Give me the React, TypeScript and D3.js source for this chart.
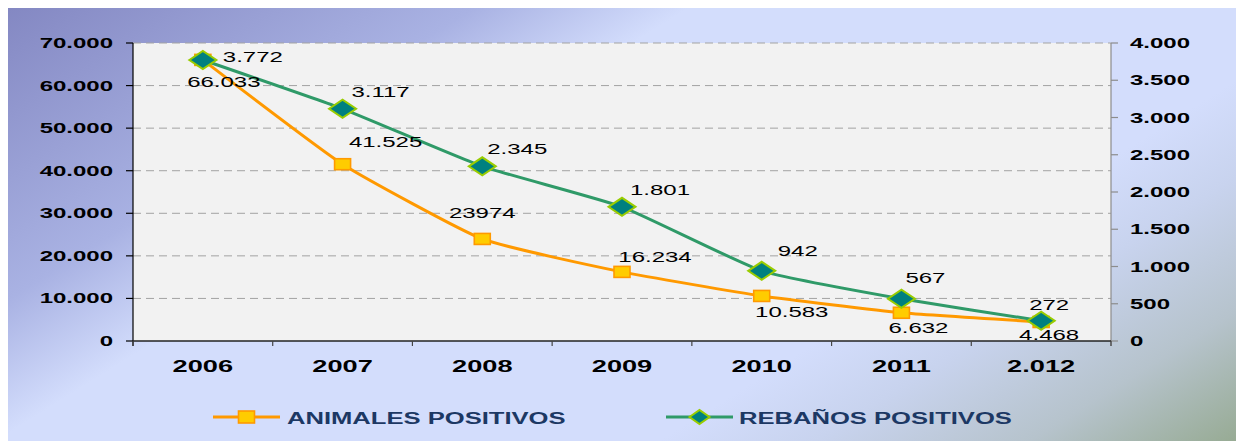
import React from "react";
import * as d3 from "d3";

const categories = ["2006", "2007", "2008", "2009", "2010", "2011", "2.012"];
const animales = [66033, 41525, 23974, 16234, 10583, 6632, 4468];
const animalesLabels = ["66.033", "41.525", "23974", "16.234", "10.583", "6.632", "4.468"];
const rebanos = [3772, 3117, 2345, 1801, 942, 567, 272];
const rebanosLabels = ["3.772", "3.117", "2.345", "1.801", "942", "567", "272"];
const leftTicks = [0, 10000, 20000, 30000, 40000, 50000, 60000, 70000];
const rightTicks = [0, 500, 1000, 1500, 2000, 2500, 3000, 3500, 4000];
const seriesNames = ["ANIMALES POSITIVOS", "REBAÑOS POSITIVOS"];

const W = 1244;
const H = 441;
const L = 133, R = 1111, T = 43, B = 341;
const SX = 1.6;
const FONT = "'Liberation Sans', Arial, sans-serif";

const loc = d3.formatLocale({ decimal: ",", thousands: ".", grouping: [3], currency: ["", ""] });
const fmt = loc.format(",");

// label offsets (center x, baseline) relative to each point
const animalesOff = [[21, 27], [43, -17], [0, -21], [33, -10], [30, 21], [17, 20], [8, 18]];
const rebanosOff = [[50, 2], [38, -12], [35, -12], [38, -12], [36, -15], [24, -16], [8, -11]];

function T_(props: { x: number; y: number; anchor?: string; size: number; weight?: string; fill?: string; children: any }) {
  const { x, y, anchor = "middle", size, weight = "normal", fill = "#000", children } = props;
  return (
    <text
      transform={`translate(${x},${y}) scale(${SX},1)`}
      textAnchor={anchor as any}
      fontFamily={FONT}
      fontSize={size}
      fontWeight={weight}
      fill={fill}
    >
      {children}
    </text>
  );
}

function Diamond({ cx, cy, rx, ry }: { cx: number; cy: number; rx: number; ry: number }) {
  return (
    <path
      d={`M${cx - rx},${cy}L${cx},${cy - ry}L${cx + rx},${cy}L${cx},${cy + ry}Z`}
      fill="#008080"
      stroke="#99cc00"
      strokeWidth={2}
    />
  );
}

function Square({ cx, cy, w, h }: { cx: number; cy: number; w: number; h: number }) {
  return <rect x={cx - w / 2} y={cy - h / 2} width={w} height={h} fill="#ffcc00" stroke="#ff9900" strokeWidth={1.6} />;
}

export default function App() {
  const x = d3.scaleBand<string>().domain(categories).range([L, R]).padding(0);
  const yL = d3.scaleLinear().domain([0, 70000]).range([B, T]);
  const yR = d3.scaleLinear().domain([0, 4000]).range([B, T]);
  const cx = (c: string) => (x(c) as number) + x.bandwidth() / 2;

  const line = d3.line<[number, number]>().x((d) => d[0]).y((d) => d[1]).curve(d3.curveCardinal.tension(0.55));
  const aPts: [number, number][] = animales.map((v, i) => [cx(categories[i]), yL(v)]);
  const rPts: [number, number][] = rebanos.map((v, i) => [cx(categories[i]), yR(v)]);

  const boundaries = categories.map((c) => x(c) as number).concat([R]);

  const legY = 417;

  return (
    <svg width={W - 8} height={H - 8} style={{ display: "block" }}>
      <defs>
        <linearGradient id="bg" gradientUnits="userSpaceOnUse" x1={0} y1={0} x2={547.5} y2={876}>
          <stop offset="0" stopColor="#8286c1" />
          <stop offset="0.25" stopColor="#a9b2e3" />
          <stop offset="0.36" stopColor="#d3ddfc" />
          <stop offset="0.7" stopColor="#d3ddfc" />
          <stop offset="0.78" stopColor="#c8d3ee" />
          <stop offset="0.89" stopColor="#b6c3cc" />
          <stop offset="1" stopColor="#96aa92" />
        </linearGradient>
      </defs>
      <g transform="translate(-8,-8)">
        <rect x={8} y={8} width={W - 8} height={H - 8} fill="url(#bg)" />
        <rect x={L} y={T} width={R - L} height={B - T} fill="#f2f2f2" />

        {leftTicks.filter((t) => t > 0).map((t) => (
          <line key={"g" + t} x1={L} x2={R} y1={yL(t)} y2={yL(t)} stroke="#a3a3a3" strokeWidth={1} strokeDasharray="8 5" />
        ))}

        {/* left axis */}
        <line x1={L} x2={L} y1={T} y2={B + 5} stroke="#000" strokeWidth={1.2} />
        {leftTicks.map((t) => (
          <g key={"lt" + t}>
            <line x1={L - 7} x2={L} y1={yL(t)} y2={yL(t)} stroke="#000" strokeWidth={1.2} />
            <T_ x={113} y={yL(t) + 5} anchor="end" size={15} weight="bold">{fmt(t)}</T_>
          </g>
        ))}

        {/* right axis */}
        <line x1={R} x2={R} y1={T} y2={B + 5} stroke="#8c8c8c" strokeWidth={1.2} />
        {rightTicks.map((t) => (
          <g key={"rt" + t}>
            <line x1={R} x2={R + 7} y1={yR(t)} y2={yR(t)} stroke="#8c8c8c" strokeWidth={1.2} />
            <T_ x={1130} y={yR(t) + 5} anchor="start" size={15} weight="bold">{fmt(t)}</T_>
          </g>
        ))}

        {/* bottom axis */}
        <line x1={L} x2={R} y1={B} y2={B} stroke="#222" strokeWidth={1.3} />
        {boundaries.map((b, i) => (
          <line key={"bt" + i} x1={b} x2={b} y1={B} y2={B + 5} stroke="#444" strokeWidth={1.2} />
        ))}
        {categories.map((c) => (
          <T_ key={"c" + c} x={cx(c)} y={372} size={17} weight="bold">{c}</T_>
        ))}

        {/* series */}
        <path d={line(aPts) || ""} fill="none" stroke="#ff9900" strokeWidth={3} />
        <path d={line(rPts) || ""} fill="none" stroke="#2f9a68" strokeWidth={3} />
        {aPts.map((p, i) => (
          <Square key={"s" + i} cx={p[0]} cy={p[1]} w={16} h={11} />
        ))}
        {rPts.map((p, i) => (
          <Diamond key={"d" + i} cx={p[0]} cy={p[1]} rx={13.5} ry={9} />
        ))}

        {/* labels */}
        {aPts.map((p, i) => (
          <T_ key={"al" + i} x={p[0] + animalesOff[i][0]} y={p[1] + animalesOff[i][1]} size={15}>{animalesLabels[i]}</T_>
        ))}
        {rPts.map((p, i) => (
          <T_ key={"rl" + i} x={p[0] + rebanosOff[i][0]} y={p[1] + rebanosOff[i][1]} size={15}>{rebanosLabels[i]}</T_>
        ))}

        {/* legend */}
        <line x1={213} x2={280} y1={legY} y2={legY} stroke="#ff9900" strokeWidth={3} />
        <Square cx={246.5} cy={legY} w={16} h={12} />
        <T_ x={287} y={legY + 7} anchor="start" size={16} weight="bold" fill="#1c3864">{seriesNames[0]}</T_>
        <line x1={666} x2={733} y1={legY} y2={legY} stroke="#2f9a68" strokeWidth={3} />
        <Diamond cx={699.5} cy={legY} rx={10} ry={7} />
        <T_ x={739} y={legY + 7} anchor="start" size={16} weight="bold" fill="#1c3864">{seriesNames[1]}</T_>
      </g>
    </svg>
  );
}
